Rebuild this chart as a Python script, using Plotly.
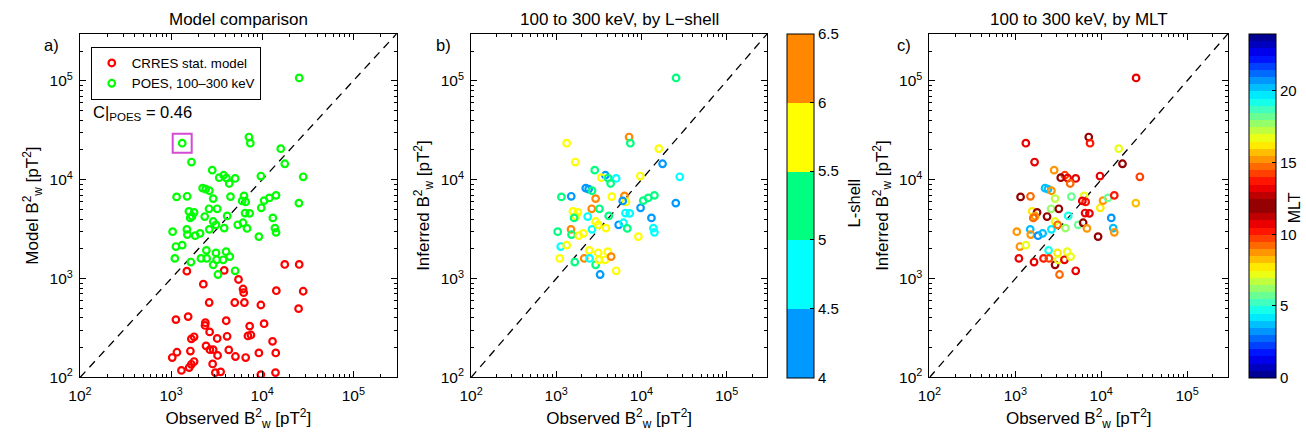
import plotly.graph_objects as go

# ---------------- data ----------------
# POES points (same observations shown in all three panels)
poes_obs = [25500, 1325, 7160, 7410, 16000, 1675, 17700, 2830, 3770, 3380,
            4060, 5050, 4350, 9680, 28200, 2220, 2400, 2630, 1150, 1500,
            2900, 4490, 6320, 6590, 6030, 9770, 10500, 12000, 14200, 25300,
            2610, 3210, 1570, 1790, 1700, 1620, 2340, 2900, 4130, 6490,
            7290, 13100, 1040, 1490, 1510, 1840, 2080, 2630, 3110, 3830,
            5400, 6160, 6820, 9200, 13800, 14200, 1130, 1325, 1100, 1650,
            2440, 3110, 4020, 2130, 2460, 2900, 3160, 3730, 4410, 3270, 5050]
poes_model = [107000, 23400, 27000, 23400, 20600, 15100, 14500, 12500, 11100, 10500,
              10400, 10300, 9160, 10900, 10700, 8220, 8040, 7740, 6700, 6800,
              6440, 6750, 6850, 5970, 6100, 5200, 6150, 6550, 6950, 5800,
              5080, 5080, 4790, 4680, 4270, 4110, 4240, 3780, 4300, 4600,
              4570, 4110, 2980, 3150, 2790, 2720, 2870, 3150, 3500, 3240,
              3500, 3670, 3220, 2660, 3240, 2940, 2110, 2180, 1600, 1470,
              1930, 1820, 1870, 1600, 1600, 1380, 1550, 1550, 1670, 1100, 1200]
poes_L = [5.25, 5.75, 6.25, 5.25, 5.75, 5.75, 4.25, 5.25, 4.25, 5.75,
          5.25, 4.75, 5.25, 5.75, 4.75, 4.25, 4.25, 5.25, 5.25, 4.25,
          6.25, 5.75, 6.25, 5.75, 4.25, 4.25, 5.25, 5.25, 5.25, 4.25,
          6.25, 5.25, 5.75, 5.75, 5.75, 5.25, 4.75, 5.75, 5.25, 4.75,
          4.75, 4.25, 5.25, 6.25, 5.25, 5.75, 5.75, 4.75, 5.75, 5.75,
          4.25, 4.75, 5.25, 5.75, 4.75, 4.75, 4.75, 5.75, 5.75, 5.25,
          5.75, 5.75, 5.75, 6.25, 4.75, 5.25, 5.75, 5.75, 6.25, 4.25, 5.75]
poes_mlt = [10.5, 10.5, 12, 13.5, 16.5, 10.5, 12, 15, 14.2, 11.5,
            10.5, 10.5, 9, 10.5, 14, 20, 20, 15, 12, 9,
            17, 18, 16.5, 13.5, 10.5, 16, 15, 18, 13.5, 15.5,
            17.5, 12, 7.5, 12, 8.5, 9, 12, 16.5, 19, 10.5,
            10.5, 20.5, 8.5, 3.5, 8.5, 3, 3.5, 19.5, 9, 17.5,
            18, 12, 15, 11.5, 20, 15, 15, 16.5, 13, 10.5,
            19, 7.5, 7, 13.5, 14, 12, 16.5, 10.5, 16.8, 9, 10.5]

# CRRES statistical model points
crres_obs = [1490, 3830, 2260, 5500, 17700, 25500, 6170, 6270, 14300, 28200,
             2620, 5000, 6380, 9680, 25100, 1130, 1540, 2380, 2360, 4030,
             7290, 10500, 2650, 4120, 6980, 7530, 1670, 1790, 3210, 13000,
             2420, 1630, 1160, 1030, 2670, 2900, 3240, 4300, 5090, 6590,
             9200, 14100, 1670, 1580, 1300, 2860, 3060, 3500, 9680, 14000, 1790]
crres_model = [1190, 1210, 879, 980, 1390, 1390, 785, 721, 755, 745,
               573, 573, 573, 541, 497, 385, 413, 358, 336, 375,
               331, 350, 289, 261, 263, 269, 246, 258, 248, 232,
               209, 185, 180, 159, 191, 191, 167, 190, 163, 159,
               177, 177, 136, 126, 118, 137, 112, 114, 107, 112, 145]

axis_limits = [1e2, 3e5]
major_ticks = [1e2, 1e3, 1e4, 1e5]
major_text = ["10<sup>2</sup>", "10<sup>3</sup>", "10<sup>4</sup>", "10<sup>5</sup>"]
minor_ticks = [m * 10 ** k for k in (2, 3, 4, 5) for m in range(2, 10) if m * 10 ** k <= 3e5]

L_ticks = [4, 4.5, 5, 5.5, 6, 6.5]
L_ticktext = ["4", "4.5", "5", "5.5", "6", "6.5"]
MLT_ticks = [0, 5, 10, 15, 20]

C_value = 0.46
highlight_index = 1

# ---------------- styling ----------------
W, H = 1306, 439
FONT = "Liberation Sans, Arial, Helvetica, sans-serif"

def px_x(p):
    return p / W

def px_y(p):
    return 1 - p / H

y_dom = [px_y(384.5), px_y(34.3)]
x_doms = [[px_x(68.6), px_x(388.3)], [px_x(463.3), px_x(762.3)], [px_x(926.0), px_x(1227.3)]]

# L-shell colours (discrete)
L_colors = ["#0099FF", "#00FFFF", "#00FF80", "#FFFF00", "#FF8800"]
L_scale = []
for i, c in enumerate(L_colors):
    L_scale.append([i / 5, c])
    L_scale.append([(i + 1) / 5, c])

# MLT colour scale: jet mirrored about noon, 48 discrete bands
def jet(x):
    cl = lambda v: max(0.0, min(1.0, v))
    r = cl(1.5 - abs(4 * x - 3))
    g = cl(1.5 - abs(4 * x - 2))
    b = cl(1.5 - abs(4 * x - 1))
    return "rgb(%d,%d,%d)" % (round(r * 255), round(g * 255), round(b * 255))

NB = 48
MLT_scale = []
for i in range(NB):
    v = (i + 0.5) / NB * 24
    c = jet(1 - abs(v - 12) / 12)
    MLT_scale.append([i / NB, c])
    MLT_scale.append([(i + 1) / NB, c])

MSIZE = 6.6
MLW = 2.2

fig = go.Figure()

# diagonal reference lines
for k in range(3):
    sfx = "" if k == 0 else str(k + 1)
    fig.add_trace(go.Scatter(x=axis_limits, y=axis_limits, mode="lines",
                             line=dict(color="black", width=1.3, dash="8px,6px"),
                             xaxis="x" + sfx, yaxis="y" + sfx, showlegend=False,
                             hoverinfo="skip"))

# panel a
fig.add_trace(go.Scatter(x=crres_obs, y=crres_model, mode="markers",
                         name="CRRES stat. model",
                         marker=dict(symbol="circle-open", size=MSIZE, color="#FF0000",
                                     line=dict(width=MLW)),
                         xaxis="x", yaxis="y"))
fig.add_trace(go.Scatter(x=poes_obs, y=poes_model, mode="markers",
                         name="POES, 100–300 keV",
                         marker=dict(symbol="circle-open", size=MSIZE, color="#00FF00",
                                     line=dict(width=MLW)),
                         xaxis="x", yaxis="y"))
# highlight square around one POES point
fig.add_trace(go.Scatter(x=[poes_obs[highlight_index]], y=[poes_model[highlight_index]],
                         mode="markers", showlegend=False, hoverinfo="skip",
                         marker=dict(symbol="square-open", size=19, color="#D44BD4",
                                     line=dict(width=2)),
                         xaxis="x", yaxis="y"))

cb_common = dict(thickness=26.5, xanchor="left", xpad=0, ypad=0,
                 y=(y_dom[0] + y_dom[1]) / 2, yanchor="middle",
                 len=y_dom[1] - y_dom[0], lenmode="fraction",
                 outlinecolor="black", outlinewidth=1,
                 ticks="inside", ticklen=4, tickcolor="black",
                 tickfont=dict(family=FONT, size=15, color="black"))

# panel b
fig.add_trace(go.Scatter(x=poes_obs, y=poes_model, mode="markers", showlegend=False,
                         marker=dict(symbol="circle-open", size=MSIZE, color=poes_L,
                                     colorscale=L_scale, cmin=4, cmax=6.5,
                                     line=dict(width=MLW), showscale=True,
                                     colorbar=dict(x=px_x(782.5), tickvals=L_ticks,
                                                   ticktext=L_ticktext, **cb_common)),
                         xaxis="x2", yaxis="y2"))
# panel c
fig.add_trace(go.Scatter(x=poes_obs, y=poes_model, mode="markers", showlegend=False,
                         marker=dict(symbol="circle-open", size=MSIZE, color=poes_mlt,
                                     colorscale=MLT_scale, cmin=0, cmax=24,
                                     line=dict(width=MLW), showscale=True,
                                     colorbar=dict(x=px_x(1248), tickvals=MLT_ticks,
                                                   **cb_common)),
                         xaxis="x3", yaxis="y3"))

ax_common = dict(type="log", range=[2, 5.4771], tickvals=major_ticks, ticktext=major_text,
                 ticks="inside", ticklen=6, tickcolor="black", tickwidth=1,
                 mirror="allticks", showline=True, linecolor="black", linewidth=1,
                 showgrid=False, zeroline=False,
                 minor=dict(tickvals=minor_ticks, ticks="inside", ticklen=3,
                            tickcolor="black", showgrid=False),
                 tickfont=dict(family=FONT, size=15.5, color="black"))

xt = "Observed B<sup>2</sup><sub>w</sub> [pT<sup>2</sup>]"
ytitles = ["Model B<sup>2</sup><sub>w</sub> [pT<sup>2</sup>]",
           "Inferred B<sup>2</sup><sub>w</sub> [pT<sup>2</sup>]",
           "Inferred B<sup>2</sup><sub>w</sub> [pT<sup>2</sup>]"]

layout = dict(width=W, height=H, margin=dict(l=0, r=0, t=0, b=0),
              paper_bgcolor="white", plot_bgcolor="white",
              font=dict(family=FONT, size=14, color="black"),
              legend=dict(x=px_x(79.5), y=px_y(47.7), xanchor="left", yanchor="top",
                          bgcolor="white", bordercolor="black", borderwidth=1,
                          font=dict(family=FONT, size=13.3, color="black"),
                          entrywidth=138, tracegroupgap=0))
for k in range(3):
    sfx = "" if k == 0 else str(k + 1)
    layout["xaxis" + sfx] = dict(domain=x_doms[k], anchor="y" + sfx, ticklabelstandoff=4,
                                 title=dict(text=xt, standoff=9,
                                            font=dict(family=FONT, size=17)),
                                 **ax_common)
    layout["yaxis" + sfx] = dict(domain=y_dom, anchor="x" + sfx, ticklabelstandoff=3,
                                 title=dict(text=ytitles[k], standoff=6,
                                            font=dict(family=FONT, size=17)),
                                 **ax_common)
fig.update_layout(**layout)

titles = ["Model comparison", "100 to 300 keV, by L−shell", "100 to 300 keV, by MLT"]
labels = ["a)", "b)", "c)"]
label_x = [40, 435, 900]
for k in range(3):
    cx = (x_doms[k][0] + x_doms[k][1]) / 2
    fig.add_annotation(text=titles[k], x=cx, y=px_y(20), xref="paper", yref="paper",
                       showarrow=False, xanchor="center", yanchor="middle",
                       font=dict(family=FONT, size=17, color="black"))
    fig.add_annotation(text=labels[k], x=px_x(label_x[k]), y=px_y(46), xref="paper",
                       yref="paper", showarrow=False, xanchor="center", yanchor="middle",
                       font=dict(family=FONT, size=16.5, color="black"))

fig.add_annotation(text="C|<sub>POES</sub> = %.2f" % C_value, x=px_x(80), y=px_y(115),
                   xref="paper", yref="paper", showarrow=False, xanchor="left",
                   yanchor="middle", font=dict(family=FONT, size=16.5, color="black"))

# colorbar labels
fig.add_annotation(text="L-shell", x=px_x(850), y=px_y(207), xref="paper", yref="paper",
                   showarrow=False, textangle=-90, xanchor="center", yanchor="middle",
                   font=dict(family=FONT, size=16.5, color="black"))
fig.add_annotation(text="MLT", x=px_x(1294), y=px_y(212), xref="paper", yref="paper",
                   showarrow=False, textangle=-90, xanchor="center", yanchor="middle",
                   font=dict(family=FONT, size=16, color="black"))

fig.write_html("out.html")
